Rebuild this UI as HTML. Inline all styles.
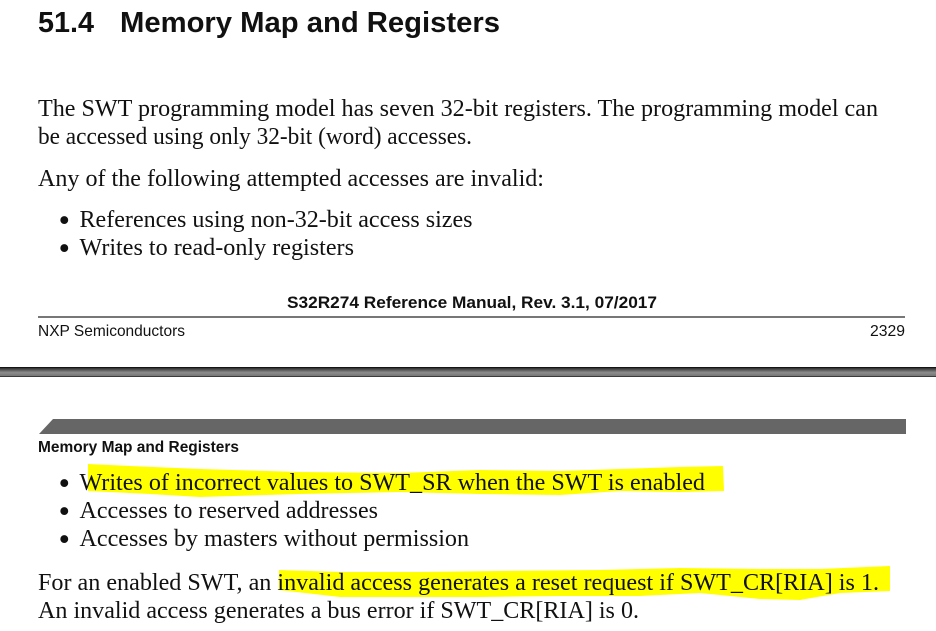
<!DOCTYPE html>
<html><head><meta charset="utf-8"><style>
html,body{margin:0;padding:0;background:#fff;width:936px;height:631px;overflow:hidden}
svg{display:block}
.s{font-family:"Liberation Serif",serif;font-size:24px;fill:#111}
.b{font-family:"Liberation Serif",serif;font-size:33px;fill:#111;text-anchor:middle}
.h{font-family:"Liberation Sans",sans-serif;fill:#111}
</style></head><body>
<svg width="936" height="631" viewBox="0 0 936 631" xmlns="http://www.w3.org/2000/svg">
<defs><linearGradient id="g" x1="0" y1="0" x2="0" y2="1">
<stop offset="0" stop-color="#000"/><stop offset="0.12" stop-color="#333"/><stop offset="0.55" stop-color="#8c8c8c"/><stop offset="0.88" stop-color="#777"/><stop offset="1" stop-color="#111"/>
</linearGradient></defs>
<rect width="936" height="631" fill="#fff"/>
<polygon fill="#ffff00" points="88,464 130,466 200,469 300,472 400,473 480,470 560,471 620,469 680,467 723,466 724,491 680,492 620,491 560,495 480,494 400,492 300,494 200,497 150,494 88,491"/>
<polygon fill="#ffff00" points="279,570 340,572 420,572 500,571 600,570 680,568 760,569 820,569 890,566 890,591 840,593 800,600 760,599 700,593 640,596 560,596 480,597 400,597 340,597 279,590"/>
<text class="h" x="38" y="32" font-size="29" font-weight="bold" textLength="56" lengthAdjust="spacingAndGlyphs">51.4</text>
<text class="h" x="120" y="32" font-size="29" font-weight="bold" textLength="380" lengthAdjust="spacingAndGlyphs">Memory Map and Registers</text>
<text class="s" x="38" y="116" textLength="840" lengthAdjust="spacingAndGlyphs">The SWT programming model has seven 32-bit registers. The programming model can</text>
<text class="s" x="38" y="144" textLength="434" lengthAdjust="spacingAndGlyphs">be accessed using only 32-bit (word) accesses.</text>
<text class="s" x="38" y="186" textLength="506" lengthAdjust="spacingAndGlyphs">Any of the following attempted accesses are invalid:</text>
<text class="b" x="64.3" y="231">•</text>
<text class="s" x="79.5" y="227" textLength="393" lengthAdjust="spacingAndGlyphs">References using non-32-bit access sizes</text>
<text class="b" x="64.3" y="259">•</text>
<text class="s" x="79.5" y="255" textLength="274.5" lengthAdjust="spacingAndGlyphs">Writes to read-only registers</text>
<text class="h" x="287" y="308" font-size="16.8" font-weight="bold" textLength="370" lengthAdjust="spacingAndGlyphs">S32R274 Reference Manual, Rev. 3.1, 07/2017</text>
<rect x="38" y="316" width="867" height="2" fill="#777"/>
<text class="h" x="38" y="336" font-size="15.6" textLength="147" lengthAdjust="spacingAndGlyphs">NXP Semiconductors</text>
<text class="h" x="870" y="336" font-size="15.6" textLength="35" lengthAdjust="spacingAndGlyphs">2329</text>
<rect x="0" y="367" width="936" height="10" fill="url(#g)"/>
<polygon fill="#666" points="53,419 906,419 906,434 39,434"/>
<text class="h" x="38" y="452" font-size="15.6" font-weight="bold" textLength="201" lengthAdjust="spacingAndGlyphs">Memory Map and Registers</text>
<text class="b" x="64.3" y="494">•</text>
<text class="s" x="79.5" y="490" textLength="625.5" lengthAdjust="spacingAndGlyphs">Writes of incorrect values to SWT_SR when the SWT is enabled</text>
<text class="b" x="64.3" y="522">•</text>
<text class="s" x="79.5" y="518" textLength="298.5" lengthAdjust="spacingAndGlyphs">Accesses to reserved addresses</text>
<text class="b" x="64.3" y="550">•</text>
<text class="s" x="79.5" y="546" textLength="389.5" lengthAdjust="spacingAndGlyphs">Accesses by masters without permission</text>
<text class="s" x="38" y="590" textLength="841" lengthAdjust="spacingAndGlyphs">For an enabled SWT, an invalid access generates a reset request if SWT_CR[RIA] is 1.</text>
<text class="s" x="38" y="618" textLength="601" lengthAdjust="spacingAndGlyphs">An invalid access generates a bus error if SWT_CR[RIA] is 0.</text>
</svg>
</body></html>
